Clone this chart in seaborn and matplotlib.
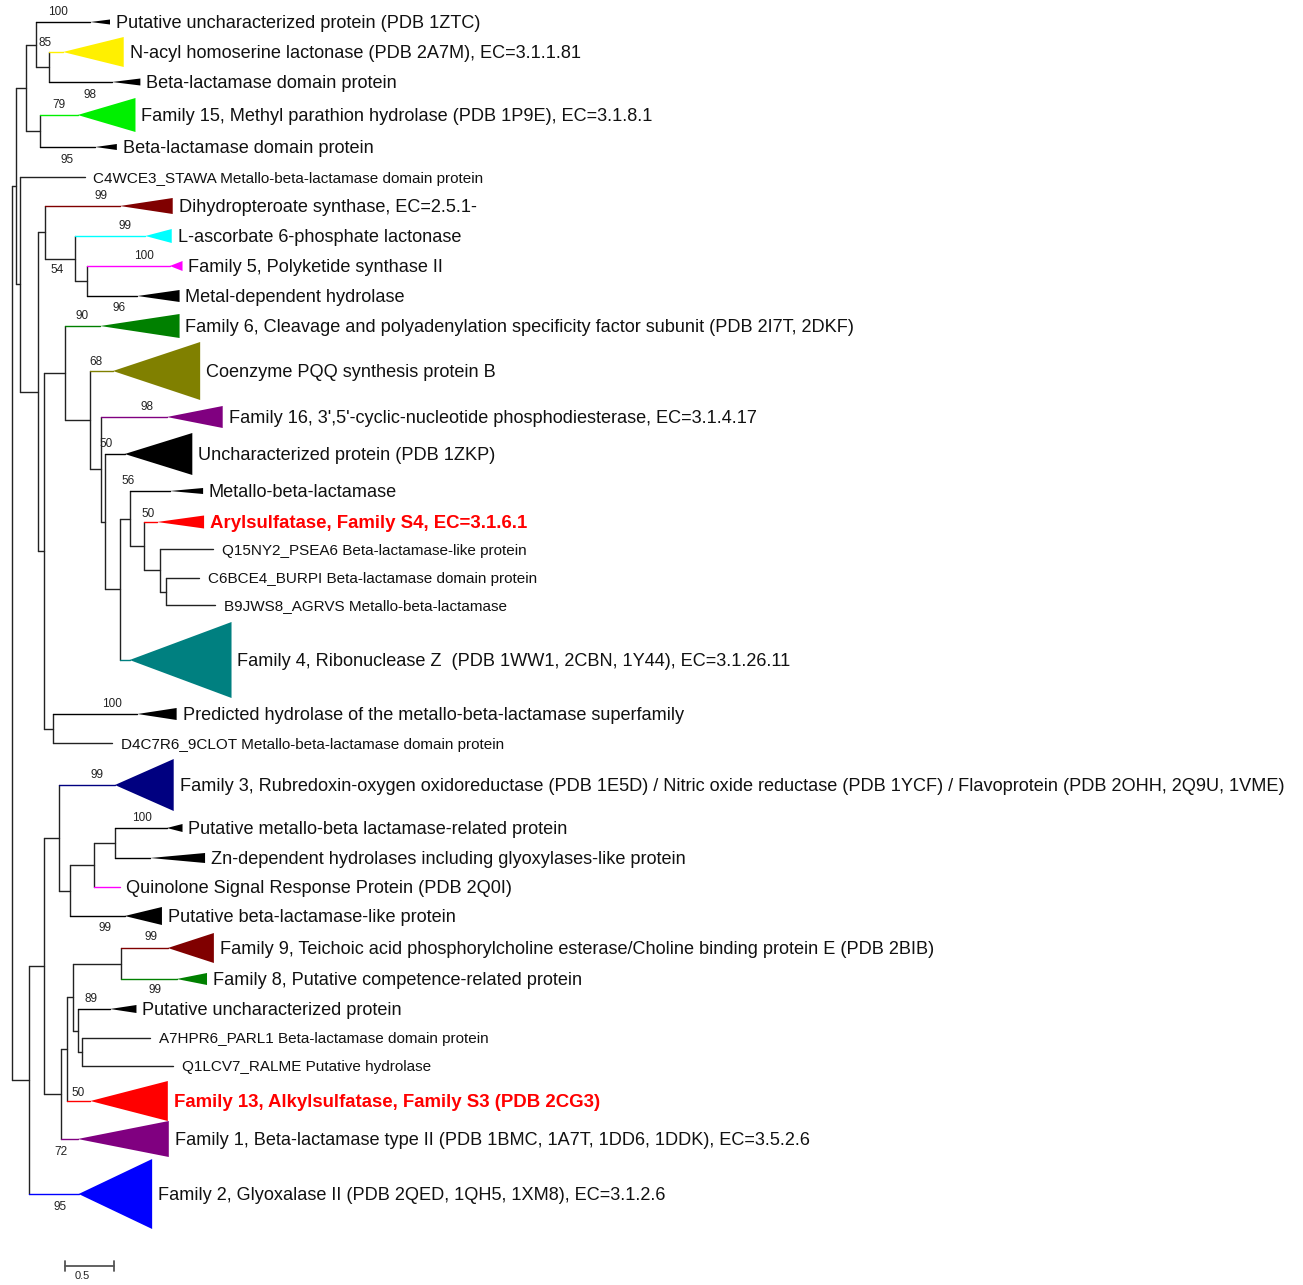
import numpy as np
import pandas as pd
import matplotlib
matplotlib.use("Agg")
import matplotlib.pyplot as plt
import seaborn as sns

# ---- tips (collapsed clades and single sequences), top to bottom ----
leaf_labels = [
    "Putative uncharacterized protein (PDB 1ZTC)",
    "N-acyl homoserine lactonase (PDB 2A7M), EC=3.1.1.81",
    "Beta-lactamase domain protein",
    "Family 15, Methyl parathion hydrolase (PDB 1P9E), EC=3.1.8.1",
    "Beta-lactamase domain protein",
    "C4WCE3_STAWA Metallo-beta-lactamase domain protein",
    "Dihydropteroate synthase, EC=2.5.1-",
    "L-ascorbate 6-phosphate lactonase",
    "Family 5, Polyketide synthase II",
    "Metal-dependent hydrolase",
    "Family 6, Cleavage and polyadenylation specificity factor subunit (PDB 2I7T, 2DKF)",
    "Coenzyme PQQ synthesis protein B",
    "Family 16, 3',5'-cyclic-nucleotide phosphodiesterase, EC=3.1.4.17",
    "Uncharacterized protein (PDB 1ZKP)",
    "Metallo-beta-lactamase",
    "Arylsulfatase, Family S4, EC=3.1.6.1",
    "Q15NY2_PSEA6 Beta-lactamase-like protein",
    "C6BCE4_BURPI Beta-lactamase domain protein",
    "B9JWS8_AGRVS Metallo-beta-lactamase",
    "Family 4, Ribonuclease Z  (PDB 1WW1, 2CBN, 1Y44), EC=3.1.26.11",
    "Predicted hydrolase of the metallo-beta-lactamase superfamily",
    "D4C7R6_9CLOT Metallo-beta-lactamase domain protein",
    "Family 3, Rubredoxin-oxygen oxidoreductase (PDB 1E5D) / Nitric oxide reductase (PDB 1YCF) / Flavoprotein (PDB 2OHH, 2Q9U, 1VME)",
    "Putative metallo-beta lactamase-related protein",
    "Zn-dependent hydrolases including glyoxylases-like protein",
    "Quinolone Signal Response Protein (PDB 2Q0I)",
    "Putative beta-lactamase-like protein",
    "Family 9, Teichoic acid phosphorylcholine esterase/Choline binding protein E (PDB 2BIB)",
    "Family 8, Putative competence-related protein",
    "Putative uncharacterized protein",
    "A7HPR6_PARL1 Beta-lactamase domain protein",
    "Q1LCV7_RALME Putative hydrolase",
    "Family 13, Alkylsulfatase, Family S3 (PDB 2CG3)",
    "Family 1, Beta-lactamase type II (PDB 1BMC, 1A7T, 1DD6, 1DDK), EC=3.5.2.6",
    "Family 2, Glyoxalase II (PDB 2QED, 1QH5, 1XM8), EC=3.1.2.6",
]
leaf_rows = [22, 52, 82, 115, 147, 177, 206, 236, 266, 296, 326, 371, 417, 454,
             491, 522, 549, 578, 605, 660, 714, 743, 785, 828, 858, 887, 916,
             948, 979, 1009, 1038, 1066, 1101, 1139, 1194]
# depth (substitutions/site) where the collapsed wedge begins and ends
wedge_start = [0.80, 0.52, 1.02, 0.67, 0.85, 0.74, 1.10, 1.36, 1.61, 1.28, 0.90,
               1.03, 1.58, 1.15, 1.61, 1.48, 2.05, 1.91, 2.07, 1.20, 1.28, 1.02,
               1.05, 1.58, 1.41, 1.10, 1.15, 1.59, 1.68, 1.00, 1.41, 1.64, 0.80,
               0.67, 0.68]
wedge_end = [1.00, 1.14, 1.31, 1.26, 1.07, 0.74, 1.64, 1.63, 1.74, 1.71, 1.71,
             1.92, 2.15, 1.84, 1.95, 1.96, 2.05, 1.91, 2.07, 2.24, 1.68, 1.02,
             1.65, 1.74, 1.97, 1.10, 1.53, 2.06, 1.99, 1.27, 1.41, 1.64, 1.59,
             1.60, 1.43]
# half height of each wedge (clade size), 0 for a single sequence
wedge_half = [2.5, 15, 3.5, 17, 3, 0, 8, 7, 5, 6, 12, 29, 11, 21, 3, 6.5, 0, 0, 0,
              38, 6, 0, 26, 4, 5, 0, 9, 15, 6, 4, 0, 0, 20, 18, 35]
leaf_colors = ["#000000", "#FFF000", "#000000", "#00F000", "#000000", "#222222",
               "#800000", "#00FFFF", "#FF00FF", "#000000", "#008000", "#808000",
               "#800080", "#000000", "#000000", "#FF0000", "#222222", "#222222",
               "#222222", "#008080", "#000000", "#222222", "#000080", "#000000",
               "#000000", "#FF00FF", "#000000", "#800000", "#008000", "#000000",
               "#222222", "#222222", "#FF0000", "#800080", "#0000FF"]
leaf_kind = ["big", "big", "big", "big", "big", "small", "big", "big", "big", "big",
             "big", "big", "big", "big", "big", "bold", "small", "small", "small",
             "big", "big", "small", "big", "big", "big", "big", "big", "big", "big",
             "big", "small", "small", "bold", "big", "big"]

# ---- internal nodes: depth and children (L<i> = tip i) ----
node_depth = {
    "root": 0.00, "top": 0.04, "nA": 0.14, "nB": 0.24, "nBB": 0.38, "nC": 0.29,
    "n20": 0.08, "n38": 0.27, "nD7": 0.34, "nD8": 0.64, "nD9": 0.77,
    "n44": 0.33, "n6": 0.54, "nPQQ": 0.80, "n16": 0.91, "nU": 0.95,
    "nF4": 1.10, "nM": 1.20, "nAr": 1.35, "nQ": 1.51, "nC6": 1.57, "nPH": 0.42,
    "bot": 0.17, "nB44": 0.33, "nF3": 0.48, "nQS": 0.59, "nQ94": 0.84,
    "nPM": 1.05, "nF1": 0.50, "nF13": 0.56, "nF9": 0.62, "nF98": 1.11,
    "nPU": 0.67, "nA7": 0.71,
}
node_children = {
    "root": ["top", "bot"], "top": ["nA", "n20"], "nA": ["nB", "nC"],
    "nB": ["L0", "nBB"], "nBB": ["L1", "L2"], "nC": ["L3", "L4"],
    "n20": ["L5", "n38"], "n38": ["nD7", "n44"], "nD7": ["L6", "nD8"],
    "nD8": ["L7", "nD9"], "nD9": ["L8", "L9"], "n44": ["n6", "nPH"],
    "n6": ["L10", "nPQQ"], "nPQQ": ["L11", "n16"], "n16": ["L12", "nU"],
    "nU": ["L13", "nF4"], "nF4": ["nM", "L19"], "nM": ["L14", "nAr"],
    "nAr": ["L15", "nQ"], "nQ": ["L16", "nC6"], "nC6": ["L17", "L18"],
    "nPH": ["L20", "L21"], "bot": ["nB44", "L34"], "nB44": ["nF3", "nF1"],
    "nF3": ["L22", "nQS"], "nQS": ["nQ94", "L26"], "nQ94": ["nPM", "L25"],
    "nPM": ["L23", "L24"], "nF1": ["nF13", "L33"], "nF13": ["nF9", "L32"],
    "nF9": ["nF98", "nPU"], "nF98": ["L27", "L28"], "nPU": ["L29", "nA7"],
    "nA7": ["L30", "L31"],
}

# ---- bootstrap support values and where they sit (depth, row) ----
boot_vals = [100, 85, 79, 98, 95, 99, 99, 100, 54, 96, 90, 68, 98, 50, 56, 50,
             100, 99, 100, 99, 99, 99, 89, 50, 72, 95]
boot_x = [0.47, 0.34, 0.48, 0.80, 0.56, 0.91, 1.15, 1.35, 0.46, 1.09, 0.72, 0.86,
          1.38, 0.96, 1.18, 1.39, 1.02, 0.87, 1.33, 0.95, 1.42, 1.46, 0.81, 0.67,
          0.50, 0.49]
boot_row = [12, 43, 105, 95, 160, 196, 226, 256, 270, 308, 316, 362, 407, 444,
            481, 514, 704, 775, 818, 928, 937, 990, 999, 1093, 1152, 1207]

scale_len = 0.5

sns.set_theme(style="white")
plt.rcParams['font.family'] = ['Liberation Sans', 'DejaVu Sans']

W, H = 1303, 1285
px_per_unit = 98.0
fig = plt.figure(figsize=(W / 100, H / 100), dpi=100)
ax = fig.add_axes([0, 0, 1, 1])
ax.set_xlim(-12 / px_per_unit, (W - 12) / px_per_unit)
ax.set_ylim(H, 0)
ax.axis('off')


def row_of(name):
    if name.startswith("L"):
        return leaf_rows[int(name[1:])]
    kids = node_children[name]
    return (row_of(kids[0]) + row_of(kids[-1])) / 2.0


# build branch segments
segs = []
sid = 0
for node, kids in node_children.items():
    d = node_depth[node]
    ys = [row_of(k) for k in kids]
    segs.append((sid, d, min(ys), "#222222"))
    segs.append((sid, d, max(ys), "#222222"))
    sid += 1
    for k, y in zip(kids, ys):
        if k.startswith("L"):
            i = int(k[1:])
            end, col = wedge_start[i], leaf_colors[i]
        else:
            end, col = node_depth[k], "#222222"
        segs.append((sid, d, y, col))
        segs.append((sid, end, y, col))
        sid += 1

seg_df = pd.DataFrame(segs, columns=["seg", "x", "y", "color"])
pal = {c: c for c in seg_df["color"].unique()}
sns.lineplot(data=seg_df, x="x", y="y", units="seg", hue="color", palette=pal,
             estimator=None, sort=False, legend=False, lw=1.0, ax=ax)

# collapsed clades as wedges
for i, lab in enumerate(leaf_labels):
    y = leaf_rows[i]
    if wedge_half[i] > 0:
        ax.fill([wedge_start[i], wedge_end[i], wedge_end[i]],
                [y, y - wedge_half[i], y + wedge_half[i]],
                color=leaf_colors[i], lw=0)
    kind = leaf_kind[i]
    ty = y + 1.5
    if kind == "small":
        ax.text(wedge_end[i] + 0.09, ty, lab, fontsize=10.95, va='center', ha='left',
                color='#111111')
    elif kind == "bold":
        ax.text(wedge_end[i] + 0.06, ty, lab, fontsize=13.4, va='center', ha='left',
                color='#FF0000', fontweight='bold')
    else:
        ax.text(wedge_end[i] + 0.06, ty, lab, fontsize=13.1, va='center', ha='left',
                color='#111111')

for v, bx, by in zip(boot_vals, boot_x, boot_row):
    ax.text(bx, by, str(v), fontsize=8.5, ha='center', va='center', color='#222222')

# scale bar
sb_x0, sb_y = 0.54, 1266
ax.plot([sb_x0, sb_x0 + scale_len], [sb_y, sb_y], color='#555555', lw=1.3)
for xx in (sb_x0, sb_x0 + scale_len):
    ax.plot([xx, xx], [sb_y - 5, sb_y + 5], color='#555555', lw=1.3)
ax.text(sb_x0 + scale_len / 2 - 0.07, sb_y + 5, "0.5", fontsize=8, ha='center',
        va='top', color='#222222')

fig.savefig("out.png", dpi=100)
